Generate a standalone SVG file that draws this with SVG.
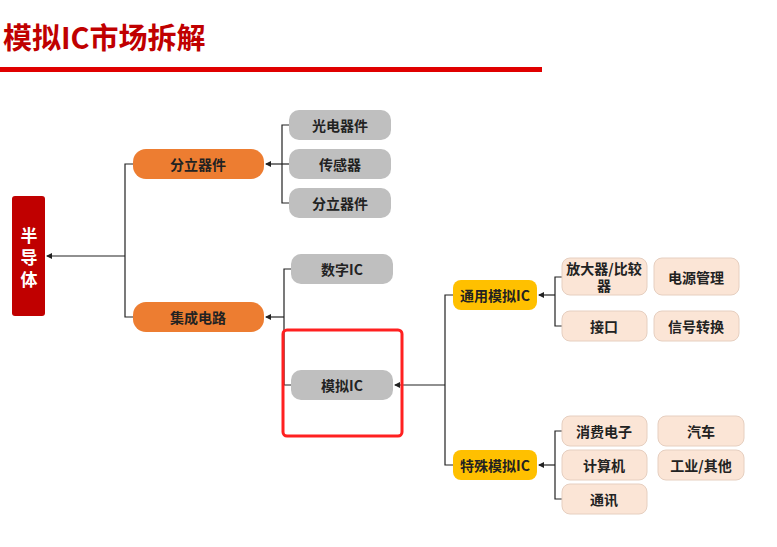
<svg xmlns="http://www.w3.org/2000/svg" width="777" height="547" viewBox="0 0 777 547">
<defs>
<style>
text{font-family:"Noto Sans CJK SC","Liberation Sans",sans-serif;font-weight:bold;text-anchor:middle;dominant-baseline:central;fill:#222;font-size:14px}
.or{fill:#ED7D31}.gr{fill:#BFBFBF}.ye{fill:#FFC000}.pe{fill:#FBE5D6;stroke:#E6CFC0;stroke-width:1}
.ln{fill:none;stroke:#222;stroke-width:1.2}
</style>
<marker id="a" viewBox="0 0 6 6" refX="5" refY="3" markerWidth="5" markerHeight="5" orient="auto"><path d="M0,0L6,3L0,6z" fill="#222"/></marker>
</defs>
<rect width="777" height="547" fill="#fff"/>
<text x="3" y="36" style="text-anchor:start;font-size:29px;fill:#C00000">模拟IC市场拆解</text>
<rect x="0" y="67" width="542" height="5" fill="#E00000"/>
<g id="connectors" class="ln">
<path d="M125,256H47" marker-end="url(#a)"/><path d="M133,164H125V317H133"/>
<path d="M289,164H266" marker-end="url(#a)"/><path d="M289,125H282V203H289"/>
<path d="M284,317H266" marker-end="url(#a)"/><path d="M291,269H284V385H291"/>
<path d="M445,385H395" marker-end="url(#a)"/><path d="M453,295H445V465H453"/>
<path d="M555,295H539" marker-end="url(#a)"/><path d="M562,277H555V326H562"/>
<path d="M555,465H539" marker-end="url(#a)"/><path d="M562,431H555V499H562"/>
</g>
<g id="n-semi"><rect x="12" y="196" width="33" height="120" rx="3" fill="#C00000"/><text x="29" y="256" style="fill:#fff;font-size:17px"><tspan x="29" dy="-22">半</tspan><tspan x="29" dy="22">导</tspan><tspan x="29" dy="22">体</tspan></text></g>
<g id="n-discrete"><rect class="or" x="133" y="149" width="131" height="30" rx="13"/><text x="198" y="164">分立器件</text></g>
<g id="n-ic"><rect class="or" x="133" y="302" width="131" height="30" rx="13"/><text x="198" y="317">集成电路</text></g>
<g id="n-opto"><rect class="gr" x="289" y="110" width="102" height="30" rx="10"/><text x="340" y="125">光电器件</text></g>
<g id="n-sensor"><rect class="gr" x="289" y="149" width="102" height="30" rx="10"/><text x="340" y="164">传感器</text></g>
<g id="n-disc2"><rect class="gr" x="289" y="188" width="102" height="30" rx="10"/><text x="340" y="203">分立器件</text></g>
<g id="n-digital"><rect class="gr" x="291" y="254" width="102" height="30" rx="10"/><text x="342" y="269">数字IC</text></g>
<g id="n-analog"><rect class="gr" x="291" y="370" width="102" height="30" rx="10"/><text x="342" y="385">模拟IC</text><rect x="283" y="330" width="119" height="106" rx="4" fill="none" stroke="#FF2020" stroke-width="3"/></g>
<g id="n-general"><rect class="ye" x="453" y="280" width="84" height="30" rx="8"/><text x="495" y="295">通用模拟IC</text></g>
<g id="n-special"><rect class="ye" x="453" y="450" width="84" height="30" rx="8"/><text x="495" y="465">特殊模拟IC</text></g>
<g id="n-amp"><rect class="pe" x="562" y="258" width="85" height="37" rx="8"/><text x="604" y="277"><tspan x="604" dy="-9">放大器/比较</tspan><tspan x="604" dy="17">器</tspan></text></g>
<g id="n-power"><rect class="pe" x="654" y="258" width="85" height="37" rx="8"/><text x="696" y="277">电源管理</text></g>
<g id="n-iface"><rect class="pe" x="562" y="311" width="85" height="30" rx="8"/><text x="604" y="326">接口</text></g>
<g id="n-conv"><rect class="pe" x="654" y="311" width="85" height="30" rx="8"/><text x="696" y="326">信号转换</text></g>
<g id="n-consumer"><rect class="pe" x="562" y="416" width="85" height="30" rx="8"/><text x="604" y="431">消费电子</text></g>
<g id="n-auto"><rect class="pe" x="658" y="416" width="86" height="30" rx="8"/><text x="701" y="431">汽车</text></g>
<g id="n-pc"><rect class="pe" x="562" y="450" width="85" height="30" rx="8"/><text x="604" y="465">计算机</text></g>
<g id="n-ind"><rect class="pe" x="658" y="450" width="86" height="30" rx="8"/><text x="701" y="465">工业/其他</text></g>
<g id="n-comm"><rect class="pe" x="562" y="484" width="85" height="30" rx="8"/><text x="604" y="499">通讯</text></g>
</svg>
